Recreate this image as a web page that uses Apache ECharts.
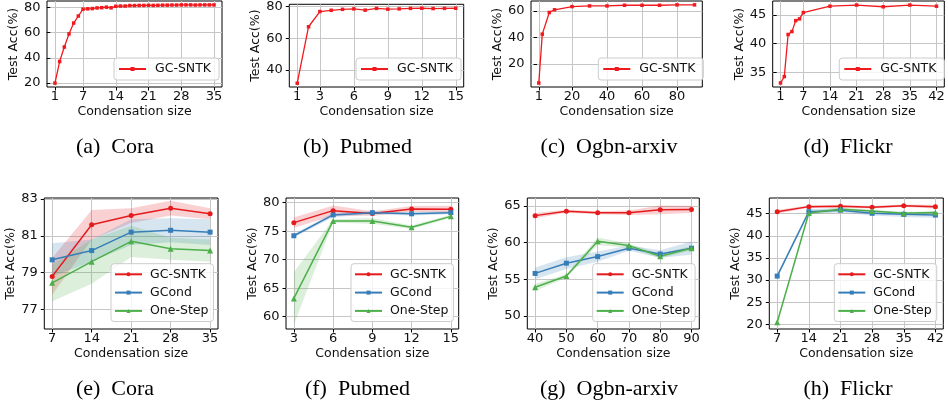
<!DOCTYPE html>
<html>
<head>
<meta charset="utf-8">
<script src="https://cdn.jsdelivr.net/npm/echarts@6/dist/echarts.min.js"></script>
<style>
  html, body { margin: 0; padding: 0; background: #fff; }
  #main { width: 948px; height: 408px; }
</style>
</head>
<body>
<div id="main"></div>
<script>
// ---- (a)-(d): GC-SNTK accuracy vs condensation size ----
const coraSize = [1, 2, 3, 4, 5, 6, 7, 8, 9, 10, 11, 12, 13, 14, 15, 16, 17, 18, 19, 20,
  21, 22, 23, 24, 25, 26, 27, 28, 29, 30, 31, 32, 33, 34, 35];
const coraAcc = [20.0, 37.1, 48.6, 59.0, 67.6, 73.2, 78.6, 78.9, 79.1, 79.6, 79.8, 80.2, 79.7, 80.9, 81.1,
  81.1, 81.5, 81.5, 81.6, 81.6, 81.7, 81.6, 81.7, 81.8, 81.8, 81.9, 81.9, 82.0, 82.0, 82.0,
  81.9, 82.0, 82.0, 82.0, 82.0];
const pubmedSize = [1, 2, 3, 4, 5, 6, 7, 8, 9, 10, 11, 12, 13, 14, 15];
const pubmedAcc = [31.5, 67.2, 76.8, 77.6, 78.2, 78.5, 77.7, 78.8, 78.3, 78.5, 78.8, 78.9, 78.7, 78.8, 78.9];
const arxivSize = [1, 3, 7, 10, 20, 30, 40, 50, 60, 70, 80, 90];
const arxivAcc = [5.8, 42.5, 58.8, 60.8, 63.2, 63.7, 63.7, 64.2, 64.2, 64.2, 64.5, 64.5];
const flickrSize = [1, 2, 3, 4, 5, 6, 7, 14, 21, 28, 35, 42];
const flickrAcc = [33.2, 34.3, 41.6, 42.1, 44.0, 44.3, 45.4, 46.5, 46.7, 46.4, 46.7, 46.5];

// ---- (e)-(h): mean / std of the three methods ----
const coraCmpSize = [7, 14, 21, 28, 35];
const coraSntk = [78.8, 81.6, 82.1, 82.5, 82.2];
const coraSntkStd = [1.0, 0.8, 0.4, 0.4, 0.3];
const coraGcond = [79.7, 80.2, 81.2, 81.3, 81.2];
const coraGcondStd = [0.9, 0.6, 0.7, 0.65, 0.7];
const coraOneStep = [78.45, 79.6, 80.7, 80.3, 80.2];
const coraOneStepStd = [1.0, 1.2, 0.85, 0.6, 0.6];

const pubmedCmpSize = [3, 6, 9, 12, 15];
const pubmedSntk = [76.5, 78.6, 78.1, 78.9, 78.85];
const pubmedSntkStd = [0.9, 0.9, 0.4, 0.5, 0.6];
const pubmedGcond = [74.2, 77.85, 78.25, 78.05, 78.25];
const pubmedGcondStd = [0.3, 0.4, 0.3, 0.3, 0.3];
const pubmedOneStep = [63.2, 76.8, 76.8, 75.7, 77.6];
const pubmedOneStepStd = [4.6, 0.3, 0.5, 0.3, 0.3];

const arxivCmpSize = [40, 50, 60, 70, 80, 90];
const arxivSntk = [63.7, 64.3, 64.1, 64.1, 64.5, 64.55];
const arxivSntkStd = [0.35, 0.2, 0.2, 0.3, 0.6, 0.5];
const arxivGcond = [55.8, 57.2, 58.1, 59.25, 58.45, 59.25];
const arxivGcondStd = [0.8, 0.8, 0.7, 0.35, 0.5, 0.9];
const arxivOneStep = [53.9, 55.45, 60.2, 59.6, 58.15, 59.25];
const arxivOneStepStd = [0.5, 0.25, 0.5, 0.3, 0.3, 0.3];

const flickrCmpSize = [7, 14, 21, 28, 35, 42];
const flickrSntk = [45.45, 46.6, 46.7, 46.45, 46.8, 46.6];
const flickrSntkStd = [0.4, 0.3, 0.3, 0.3, 0.3, 0.4];
const flickrGcond = [30.9, 45.45, 45.8, 45.1, 44.85, 44.7];
const flickrGcondStd = [0.4, 0.6, 0.5, 0.5, 0.6, 0.6];
const flickrOneStep = [20.45, 45.15, 46.0, 45.6, 45.1, 45.3];
const flickrOneStepStd = [0.3, 0.4, 0.4, 0.3, 0.3, 0.3];

// ---- tick labels ----
const coraTopXTicks = [1, 7, 14, 21, 28, 35];
const coraTopYTicks = [20, 40, 60, 80];
const pubmedTopXTicks = [1, 3, 6, 9, 12, 15];
const pubmedTopYTicks = [40, 60, 80];
const arxivTopXTicks = [1, 20, 40, 60, 80];
const arxivTopYTicks = [20, 40, 60];
const flickrTopXTicks = [1, 7, 14, 21, 28, 35, 42];
const flickrTopYTicks = [35, 40, 45];
const coraBotYTicks = [77, 79, 81, 83];
const pubmedBotYTicks = [60, 65, 70, 75, 80];
const arxivBotYTicks = [50, 55, 60, 65];
const flickrBotYTicks = [20, 25, 30, 35, 40, 45];

const captions = ['(a)\u2002Cora', '(b)\u2002Pubmed', '(c)\u2002Ogbn-arxiv', '(d)\u2002Flickr',
  '(e)\u2002Cora', '(f)\u2002Pubmed', '(g)\u2002Ogbn-arxiv', '(h)\u2002Flickr'];

const RED = '#e41a1c', BLUE = '#377eb8', GREEN = '#4daf4a', TOP_RED = '#f01a1e';
const FONT = 'DejaVu Sans';

const grids = [], xAxes = [], yAxes = [], series = [], legends = [], graphics = [];

function pairs(xs, ys) {
  return xs.map((x, k) => [x, ys[k]]);
}

function addPanel(box, xr, yr, xt, yt) {
  const i = grids.length;
  grids.push({
    left: box[0], top: box[1], width: box[2], height: box[3],
    show: true, borderColor: '#000', borderWidth: 1, backgroundColor: 'transparent'
  });
  const common = {
    gridIndex: i, type: 'value',
    nameLocation: 'middle',
    nameTextStyle: { fontFamily: FONT, fontSize: 12.5, color: '#111', verticalAlign: 'middle' },
    axisLine: { show: false },
    splitLine: { show: true, lineStyle: { color: '#c6c6c6', width: 1 } }
  };
  xAxes.push(Object.assign({}, common, {
    min: xr[0], max: xr[1], name: 'Condensation size', nameGap: 25,
    axisTick: { show: true, length: 3.5, customValues: xt, lineStyle: { color: '#000' } },
    axisLabel: { customValues: xt, margin: 3.5, fontFamily: FONT, fontSize: 13, color: '#111' }
  }));
  yAxes.push(Object.assign({}, common, {
    min: yr[0], max: yr[1], name: 'Test Acc(%)', nameGap: 29,
    axisTick: { show: true, length: 3.5, customValues: yt, lineStyle: { color: '#000' } },
    axisLabel: { customValues: yt, margin: 6.5, fontFamily: FONT, fontSize: 13, color: '#111' }
  }));
  return i;
}

function addLine(i, name, xs, ys, color, symbol, size, width) {
  series.push({
    type: 'line', name: name, xAxisIndex: i, yAxisIndex: i,
    data: pairs(xs, ys), symbol: symbol, symbolSize: size,
    itemStyle: { color: color }, lineStyle: { color: color, width: width },
    z: 3, silent: true
  });
}

function addBand(i, xs, mean, std, color) {
  const lo = mean.map((m, k) => m - std[k]);
  const hi = mean.map((m, k) => m + std[k]);
  series.push({
    type: 'custom', coordinateSystem: 'cartesian2d', xAxisIndex: i, yAxisIndex: i,
    data: xs.map((x, k) => [x, lo[k], hi[k]]), encode: { x: 0, y: [1, 2] },
    clip: true, silent: true, z: 1,
    renderItem: function (params, api) {
      if (params.dataIndex !== 0) return null;
      const pts = [];
      for (let k = 0; k < xs.length; k++) pts.push(api.coord([xs[k], hi[k]]));
      for (let k = xs.length - 1; k >= 0; k--) pts.push(api.coord([xs[k], lo[k]]));
      return { type: 'polygon', shape: { points: pts }, style: { fill: color, opacity: 0.2 } };
    }
  });
}

function addLegend(left, top, names, padding, textGap) {
  legends.push({
    left: left, top: top, orient: 'vertical', data: names,
    itemWidth: 27, itemHeight: 5, itemGap: 4.3, padding: padding,
    borderColor: '#cccccc', borderWidth: 1, borderRadius: 3,
    backgroundColor: 'rgba(255,255,255,0.8)', selectedMode: false,
    formatter: n => n.trim(),
    textStyle: { fontFamily: FONT, fontSize: 12.5, color: '#111', lineHeight: 14, padding: [0, 0, 0, textGap] }
  });
}

// top row
const topPanels = [
  { box: [47, 1, 175, 86], xr: [-0.7, 36.7], yr: [16.9, 85.1], xt: coraTopXTicks, yt: coraTopYTicks, xs: coraSize, ys: coraAcc, lg: 114 },
  { box: [289.3, 1, 174.4, 86], xr: [0.3, 15.7], yr: [29.1, 81.4], xt: pubmedTopXTicks, yt: pubmedTopYTicks, xs: pubmedSize, ys: pubmedAcc, lg: 356 },
  { box: [531, 1, 171.3, 86], xr: [-3.45, 94.45], yr: [2.8, 67.4], xt: arxivTopXTicks, yt: arxivTopYTicks, xs: arxivSize, ys: arxivAcc, lg: 598.3 },
  { box: [772.7, 1, 171.6, 86], xr: [-1.05, 44.05], yr: [32.5, 47.4], xt: flickrTopXTicks, yt: flickrTopYTicks, xs: flickrSize, ys: flickrAcc, lg: 839.3 }
];
topPanels.forEach(p => {
  const i = addPanel(p.box, p.xr, p.yr, p.xt, p.yt);
  addLine(i, 'GC-SNTK', p.xs, p.ys, TOP_RED, 'rect', 3.5, 1.3);
  addLegend(p.lg, 58, ['GC-SNTK'], [4, 8, 4, 4], 4);
});

// bottom row
const botPanels = [
  { box: [44.3, 198, 173.7, 131], xr: [5.6, 36.4], yr: [75.95, 83.05], xs: coraCmpSize, yt: coraBotYTicks,
    m: [coraSntk, coraGcond, coraOneStep], s: [coraSntkStd, coraGcondStd, coraOneStepStd], lg: 111 },
  { box: [286, 198, 172.7, 131], xr: [2.4, 15.6], yr: [57.84, 80.82], xs: pubmedCmpSize, yt: pubmedBotYTicks,
    m: [pubmedSntk, pubmedGcond, pubmedOneStep], s: [pubmedSntkStd, pubmedGcondStd, pubmedOneStepStd], lg: 351 },
  { box: [527.3, 198, 172, 131], xr: [37.5, 92.5], yr: [48.2, 66.11], xs: arxivCmpSize, yt: arxivBotYTicks,
    m: [arxivSntk, arxivGcond, arxivOneStep], s: [arxivSntkStd, arxivGcondStd, arxivOneStepStd], lg: 592.7 },
  { box: [769.3, 198, 174, 131], xr: [5.25, 43.75], yr: [18.94, 48.55], xs: flickrCmpSize, yt: flickrBotYTicks,
    m: [flickrSntk, flickrGcond, flickrOneStep], s: [flickrSntkStd, flickrGcondStd, flickrOneStepStd], lg: 834.3 }
];
const methods = [
  { name: 'GC-SNTK ', color: RED, symbol: 'circle', size: 5 },
  { name: 'GCond', color: BLUE, symbol: 'rect', size: 5 },
  { name: 'One-Step', color: GREEN, symbol: 'triangle', size: 6 }
];
botPanels.forEach(p => {
  const i = addPanel(p.box, p.xr, p.yr, p.xs, p.yt);
  methods.forEach((mt, k) => addBand(i, p.xs, p.m[k], p.s[k], mt.color));
  methods.forEach((mt, k) => addLine(i, mt.name, p.xs, p.m[k], mt.color, mt.symbol, mt.size, 1.5));
  addLegend(p.lg, 263.7, methods.map(mt => mt.name), [3.6, 5, 3.6, 3], 3);
});

// sub-figure captions
const capX = [115, 357.5, 609, 848];
captions.forEach((c, k) => {
  graphics.push({
    type: 'text', x: capX[k % 4], y: k < 4 ? 147 : 389, silent: true,
    style: { text: c, font: '22px "Liberation Serif"', fill: '#000', align: 'center', verticalAlign: 'middle' }
  });
});

const chart = echarts.init(document.getElementById('main'), null, { renderer: 'canvas' });
chart.setOption({
  animation: false,
  backgroundColor: '#fff',
  grid: grids,
  xAxis: xAxes,
  yAxis: yAxes,
  legend: legends,
  series: series,
  graphic: graphics
});
</script>
</body>
</html>
